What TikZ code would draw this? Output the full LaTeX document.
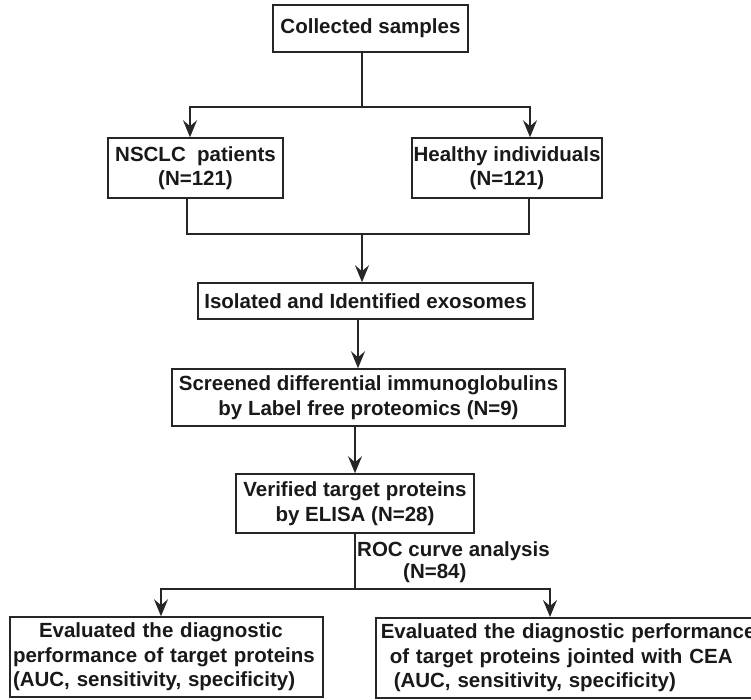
\documentclass[tikz,border=0pt]{standalone}
\usepackage{fontspec}
\setmainfont{Liberation Sans}
\usetikzlibrary{arrows.meta}
\begin{document}
\begin{tikzpicture}[x=1pt,y=-1pt,
  box/.style={draw=black!85, line width=1.5pt, fill=white, text=black!90,
    font=\bfseries\fontsize{20.5}{24.5}\selectfont, align=center, inner sep=0pt},
  conn/.style={draw=black!85, line width=1.5pt},
  arr/.style={conn, -{Stealth[length=17pt,width=14pt,inset=6pt]}},
  lbl/.style={text=black!90, font=\bfseries\fontsize{20.5}{24.5}\selectfont, inner sep=0pt}
]
\useasboundingbox (0,0) rectangle (751,700);
\fill[white] (0,0) rectangle (751,700);

\node[box, minimum width=195pt, minimum height=47pt] (cs) at (370.5,28.5) {Collected samples};
\node[box, minimum width=175pt, minimum height=60pt] (ns) at (195.5,168) {NSCLC~~patients\\(N=121)};
\node[box, minimum width=190pt, minimum height=60pt] (hi) at (507,168) {Healthy individuals\\(N=121)};
\node[box, minimum width=335pt, minimum height=36pt] (iso) at (365.5,301) {Isolated and Identified exosomes};
\node[box, minimum width=393pt, minimum height=57pt] (scr) at (368.5,397.5) {Screened differential immunoglobulins\\by Label free proteomics (N=9)};
\node[box, minimum width=238pt, minimum height=59pt] (ver) at (355,503.5) {Verified target proteins\\by ELISA (N=28)};
\node[box, text width=307pt, align=left, inner xsep=3pt, minimum height=80pt] (ev1) at (166.5,657)
  {\hspace*{26pt}Evaluated the diagnostic\\performance of target proteins\\(AUC, sensitivity, specificity)};
\node[box, text width=390pt, align=left, inner xsep=5pt, minimum height=80pt, anchor=north west] (ev2) at (375,617)
  {Evaluated the diagnostic performance\\\hspace*{9pt}of target proteins jointed with CEA\\\hspace*{13pt}(AUC, sensitivity, specificity)};

\node[lbl, anchor=base west] (roc) at (357,556) {ROC curve analysis};
\node[lbl, anchor=base west] (rocn) at (403,578) {(N=84)};

\coordinate (j1) at (362,107);
\coordinate (j2) at (362,234);
\coordinate (j3) at (355,589);
\coordinate (a2) at (550,600);

\draw[conn] (cs.south -| j1) -- (j1);
\draw[arr] (j1) -| ([xshift=-5.5pt]ns.north);
\draw[arr] (j1) -| ([xshift=23pt]hi.north);

\draw[conn] ([xshift=-8.5pt]ns.south) |- ([xshift=22pt]hi.south |- j2) -- ([xshift=22pt]hi.south);
\draw[arr] (j2) -- (j2 |- iso.north);

\draw[arr] ([xshift=-7.5pt]iso.south) -- ([xshift=-7.5pt]iso.south |- scr.north);
\draw[arr] (scr.south -| ver.north) -- (ver.north);

\draw[conn] (ver.south) -- (j3);
\draw[arr] (j3) -| ([xshift=-5.5pt]ev1.north);
\draw[arr] (j3) -| (a2 |- ev2.north);
\end{tikzpicture}
\end{document}
